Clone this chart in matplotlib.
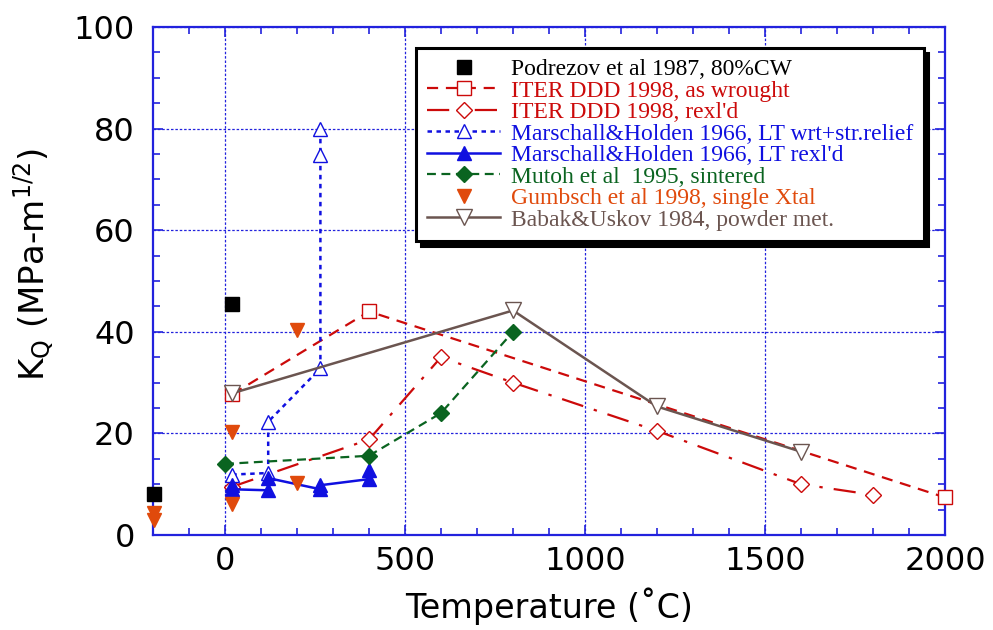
import matplotlib
matplotlib.use('Agg')
import matplotlib.pyplot as plt
from matplotlib.ticker import MultipleLocator
from matplotlib.patches import Shadow

plt.rcParams['font.family'] = ['DejaVu Sans']
plt.rcParams['mathtext.fontset'] = 'custom'
plt.rcParams['mathtext.rm'] = 'DejaVu Sans'

# ---------------- data ----------------
pod_T = [-196, 20]
pod_K = [8.1, 45.5]

iterw_T = [20, 400, 2000]
iterw_K = [27.7, 44.0, 7.4]

iterr_T = [20, 400, 600, 800, 1200, 1600, 1800]
iterr_K = [9.5, 18.8, 35.0, 30.0, 20.5, 10.0, 7.9]

mhw_T = [20, 120, 120, 265, 265, 265]
mhw_K = [11.9, 12.2, 22.3, 32.8, 74.8, 79.9]

mhr_T = [20, 20, 120, 120, 265, 265, 400, 400]
mhr_K = [9.8, 9.0, 8.8, 11.2, 9.0, 9.8, 11.0, 12.7]

mutoh_T = [0, 400, 600, 800]
mutoh_K = [14.0, 15.6, 24.0, 40.0]

gum_T = [-196, -196, 20, 20, 200, 200]
gum_K = [4.4, 3.0, 20.2, 6.2, 40.3, 10.2]

babak_T = [20, 800, 1200, 1600]
babak_K = [27.9, 44.2, 25.3, 16.4]

labels = [
    "Podrezov et al 1987, 80%CW",
    "ITER DDD 1998, as wrought",
    "ITER DDD 1998, rexl'd",
    "Marschall&Holden 1966, LT wrt+str.relief",
    "Marschall&Holden 1966, LT rexl'd",
    "Mutoh et al  1995, sintered",
    "Gumbsch et al 1998, single Xtal",
    "Babak&Uskov 1984, powder met.",
]

xticks = [0, 500, 1000, 1500, 2000]
yticks = [0, 20, 40, 60, 80, 100]

# ---------------- colours ----------------
RED = '#cc0a0a'
BLUE = '#1010e0'
GREEN = '#0a6420'
ORANGE = '#e04a0c'
BROWN = '#6b5550'
AXBLUE = '#2222dd'

fig = plt.figure(figsize=(9.93, 6.30), dpi=100)
ax = fig.add_axes([153/993, 1 - 535/630, 792/993, 508/630])

lw = 1.6
ms = 9.5
common = dict(clip_on=False)

ax.plot(pod_T, pod_K, ls='none', marker='s', ms=ms, color='black', label=labels[0], zorder=6, **common)
ax.plot(iterw_T, iterw_K, ls=(0, (5, 3.5)), lw=lw, color=RED, marker='s', ms=ms+0.5,
        mfc='white', mec=RED, mew=1.0, label=labels[1], zorder=3, **common)
ax.plot(iterr_T, iterr_K, ls=(0, (10, 5, 1.5, 5)), lw=lw, color=RED, marker='D', ms=ms-1.5,
        mfc='white', mec=RED, mew=1.0, label=labels[2], zorder=3, **common)
ax.plot(mhw_T, mhw_K, ls=(0, (1.8, 1.8)), lw=lw+0.2, color=BLUE, marker='^', ms=ms+0.5,
        mfc='white', mec=BLUE, mew=1.0, label=labels[3], zorder=4, **common)
ax.plot(mhr_T, mhr_K, ls='-', lw=lw+0.2, color=BLUE, marker='^', ms=ms+0.5,
        mfc=BLUE, mec=BLUE, label=labels[4], zorder=4, **common)
ax.plot(mutoh_T, mutoh_K, ls=(0, (4, 2.5)), lw=lw, color=GREEN, marker='D', ms=ms-1.5,
        mfc=GREEN, mec=GREEN, label=labels[5], zorder=4, **common)
ax.plot(gum_T, gum_K, ls='none', marker='v', ms=ms+0.5, color=ORANGE, label=labels[6], zorder=5, **common)
ax.plot(babak_T, babak_K, ls='-', lw=lw+0.2, color=BROWN, marker='v', ms=ms+1.5,
        mfc='white', mec=BROWN, mew=1.0, label=labels[7], zorder=4, **common)

ax.set_xlim(-200, 2000)
ax.set_ylim(0, 100)
ax.set_xticks(xticks)
ax.set_yticks(yticks)
ax.xaxis.set_minor_locator(MultipleLocator(100))
ax.yaxis.set_minor_locator(MultipleLocator(5))

ax.tick_params(which='both', direction='in', top=True, right=True, color=AXBLUE,
               labelsize=23, width=1.2)
ax.tick_params(which='major', length=7)
ax.tick_params(which='minor', length=5)
ax.tick_params(axis='x', which='major', pad=8)
ax.tick_params(axis='y', which='major', pad=13)
for s in ax.spines.values():
    s.set_color(AXBLUE)
    s.set_linewidth(1.6)

ax.grid(True, which='major', color=AXBLUE, ls=(0, (2, 1.5)), lw=0.9)
ax.set_axisbelow(True)

ax.set_xlabel('Temperature (˚C)', fontsize=24)
ax.set_ylabel(r'K$_\mathregular{Q}$ (MPa-m$^\mathregular{1/2}$)', fontsize=24.5)
ax.xaxis.label.set_va('baseline')
ax.yaxis.label.set_va('baseline')
ax.xaxis.set_label_coords(0.5, -0.1634)
ax.yaxis.set_label_coords(-0.1364, 0.5315)

leg = ax.legend(loc='upper right', bbox_to_anchor=(0.973, 0.959),
                prop={'family': 'Liberation Serif', 'size': 17},
                labelspacing=0.0, handlelength=3.1, handletextpad=0.45,
                borderpad=0.45, borderaxespad=0.0, frameon=True, fancybox=False,
                framealpha=1, edgecolor='black')
leg.get_frame().set_linewidth(2.2)
cols = ['black', RED, RED, BLUE, BLUE, GREEN, ORANGE, BROWN]
for t, c in zip(leg.get_texts(), cols):
    t.set_color(c)
leg.set_zorder(10)

fig.canvas.draw()
sh = Shadow(leg.legendPatch, 3.5, -3.5, facecolor='black', edgecolor='black')
sh.set_zorder(9.5)
sh.set_alpha(1)
ax.add_artist(sh)

fig.savefig('out.png', dpi=100)
